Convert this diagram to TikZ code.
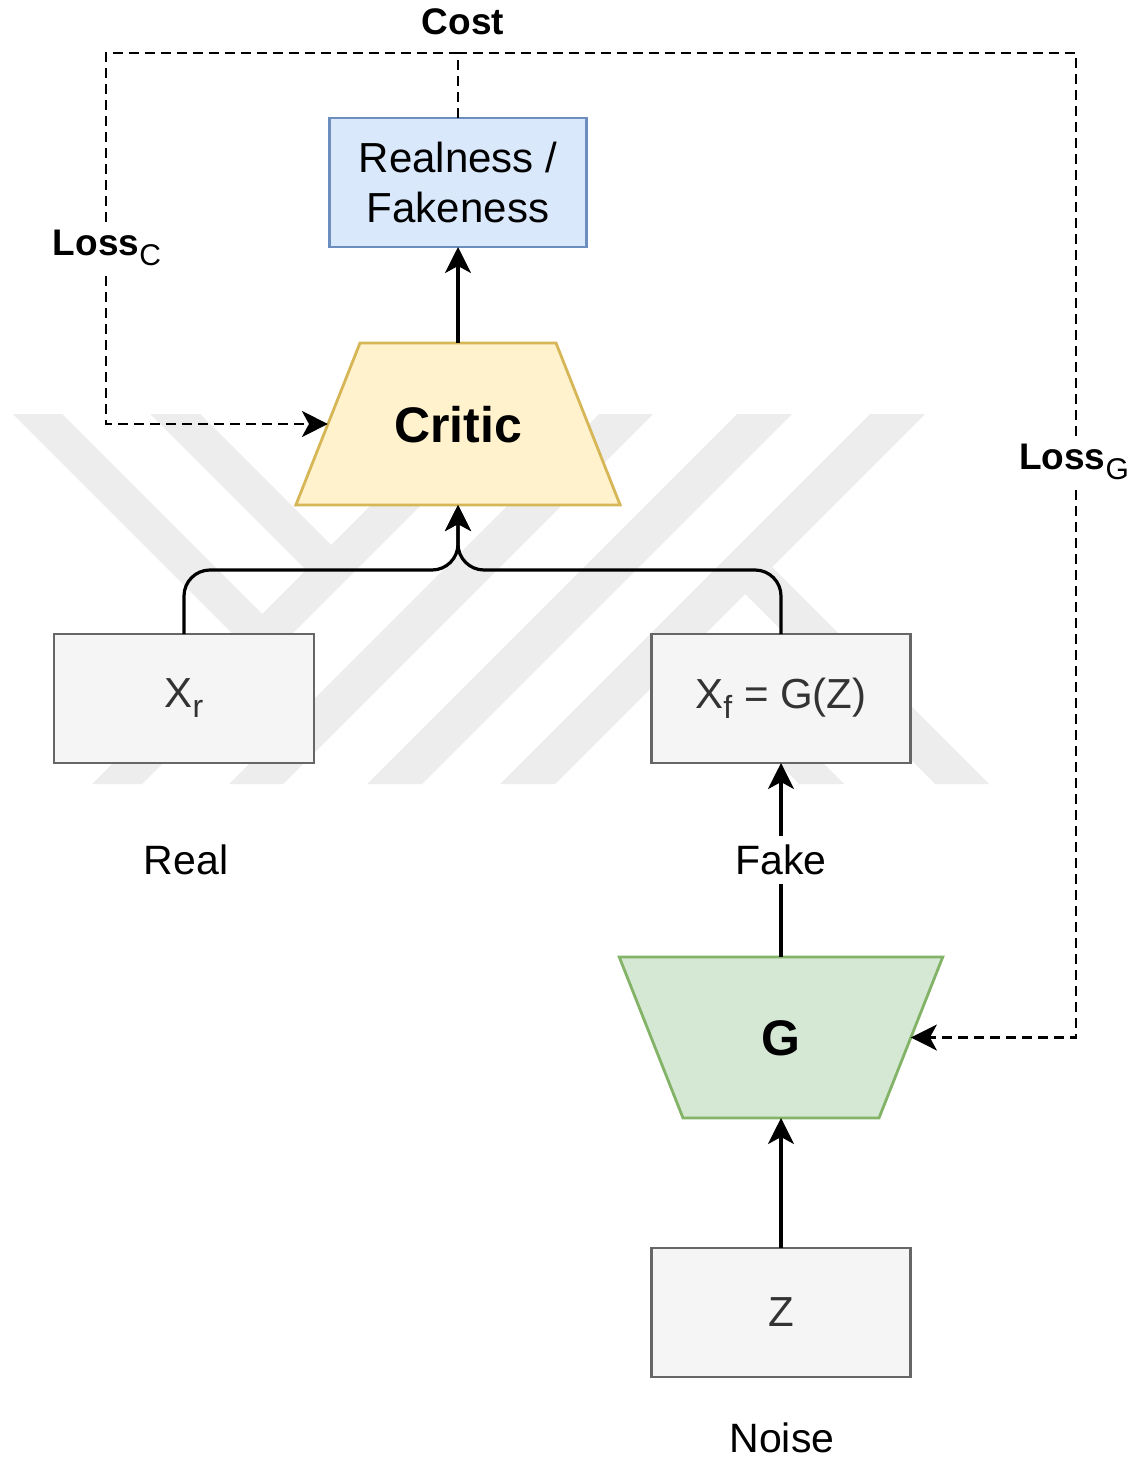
\documentclass[tikz,border=0pt]{standalone}
\usepackage{fontspec}
\setmainfont{Liberation Sans}
\usetikzlibrary{shapes.geometric,arrows.meta}

\definecolor{boxfill}{HTML}{F5F5F5}
\definecolor{boxline}{HTML}{666666}
\definecolor{boxtext}{HTML}{333333}
\definecolor{bluefill}{HTML}{DAE8FC}
\definecolor{blueline}{HTML}{6C8EBF}
\definecolor{yellowfill}{HTML}{FFF2CC}
\definecolor{yellowline}{HTML}{D6B656}
\definecolor{greenfill}{HTML}{D5E8D4}
\definecolor{greenline}{HTML}{82B366}
\definecolor{markgrey}{HTML}{EDEDED}

% lowered, slightly smaller index text
\newcommand\boxsub[1]{\raisebox{-5pt}{\fontsize{16}{16}\selectfont #1}}
\newcommand\losssub[1]{\raisebox{-5pt}{\fontsize{15}{15}\selectfont\mdseries #1}}

\begin{document}
\begin{tikzpicture}[x=0.5pt,y=-0.5pt,
  databox/.style={draw=boxline, fill=boxfill, line width=1.4pt,
    minimum width=129.5pt, minimum height=64.5pt, text=boxtext,
    font=\fontsize{21}{25}\selectfont, inner sep=0pt, outer sep=0pt},
  outbox/.style={databox, draw=blueline, fill=bluefill, text=black,
    minimum width=128.5pt, align=center},
  netblock/.style={trapezium, line width=1.4pt, outer sep=0pt,
    text height=18pt, text depth=0pt, align=center,
    inner ysep=31.5pt, font=\bfseries\fontsize{25}{30}\selectfont},
  widetop/.style={netblock, trapezium left angle=68.4, trapezium right angle=68.4,
    text width=64pt, inner xsep=17pt},
  narrowtop/.style={netblock, trapezium left angle=111.6, trapezium right angle=111.6,
    text width=20pt, inner xsep=39pt, inner ysep=31.25pt},
  plain/.style={font=\fontsize{20.5}{24}\selectfont, inner sep=0pt},
  losslbl/.style={font=\bfseries\fontsize{18.5}{22}\selectfont, inner sep=4pt},
  conn/.style={draw=black, line width=1.6pt,
    -{Stealth[length=13pt,width=13pt,inset=3.5pt]}},
  dconn/.style={conn, line width=1.3pt, dash pattern=on 5pt off 3pt}
]
\useasboundingbox (0,0) rectangle (1138,1460);
\fill[white] (0,0) rectangle (1138,1460);

% background emblem made of light diagonal bands
\fill[markgrey] (13,414) -- (62,414) -- (262,614) -- (237.5,638.5) -- cycle;
\fill[markgrey] (150,414) -- (200,414) -- (331,545) -- (306,570) -- cycle;
\fill[markgrey] (462,414) -- (512,414) -- (142,784) -- (92,784) -- cycle;
\fill[markgrey] (599,414) -- (653,414) -- (283,784) -- (229,784) -- cycle;
\fill[markgrey] (737,414) -- (792,414) -- (422,784) -- (367,784) -- cycle;
\fill[markgrey] (870,414) -- (925,414) -- (555,784) -- (500,784) -- cycle;
\fill[markgrey] (745,594) -- (772,567) -- (989,784) -- (935,784) -- cycle;
\fill[markgrey] (677,662) -- (699.5,639.5) -- (844,784) -- (799,784) -- cycle;

% blocks
\node[outbox] (real) at (458,182.5) {Realness /\\Fakeness};
\node[widetop, draw=yellowline, fill=yellowfill] (critic) at (458,424) {Critic};
\node[databox, minimum width=130pt] (xr) at (184,698.5) {X\boxsub{r}};
\node[databox] (xf) at (781,698.5) {X\boxsub{f} = G(Z)};
\node[narrowtop, draw=greenline, fill=greenfill] (g) at (781,1037.5) {G};
\node[databox] (z) at (781,1312.5) {Z};

% free labels
\node[plain] (reallbl) at (186,860) {Real};
\node[plain] (noise) at (782,1438) {Noise};
\node[font=\bfseries\fontsize{18.5}{22}\selectfont, inner sep=0pt] (cost) at (463,22) {Cost};

% routing points
\coordinate (join) at (458,570);
\coordinate (cl) at (106,53);
\coordinate (cr) at (1076,53);

% solid data flow
\draw[conn, rounded corners=13pt] (xr.north) |- (join) -- (critic.south);
\draw[conn, rounded corners=13pt] (xf.north) |- (join) -- (critic.south);
\draw[conn] (critic.north) -- (real.south);
\draw[conn] (g.north) -- node[plain, fill=white, inner sep=4.5pt] (fake) {Fake} (xf.south);
\draw[conn] (z.north) -- (g.south);

% dashed loss feedback
\draw[dconn] (real.north) |- (cl) |- (critic.west);
\draw[dconn] (real.north) |- (cr) |- (g.east);
\node[losslbl, fill=white] (lossc) at (107,248) {Loss\losssub{C}};
\node[losslbl, fill=white] (lossg) at (1074,462) {Loss\losssub{G}};
\end{tikzpicture}
\end{document}
